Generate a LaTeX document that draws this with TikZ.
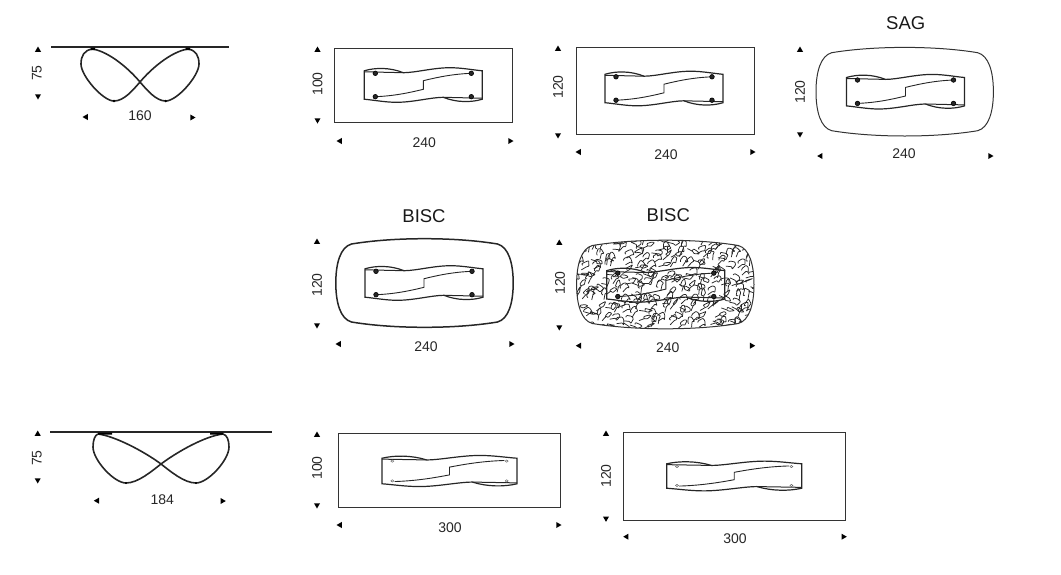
\documentclass[tikz,border=0pt]{standalone}
\usepackage{fontspec}
\setmainfont{Liberation Sans}
\usetikzlibrary{shapes,positioning}
\tikzset{
  tipu/.style={regular polygon, regular polygon sides=3, fill=black, inner sep=0pt, minimum size=7pt},
  tipd/.style={tipu, shape border rotate=180},
  tipl/.style={tipu, shape border rotate=90},
  tipr/.style={tipu, shape border rotate=270},
  dim/.style={font=\fontsize{14}{16}\selectfont, text=black!85, inner sep=0pt},
  dimv/.style={dim, rotate=90},
  title/.style={font=\fontsize{18.5}{20}\selectfont, text=black!90, inner sep=0pt},
  frame/.style={draw=black!80, line width=1pt, inner sep=0pt},
  top/.style={draw=black!85, line width=2.2pt},
  leg/.style={draw=black!85, line width=1.6pt},
  plan/.pic={
    \draw[line width=1.2pt, black!85] (-59,-14.2) .. controls (-48,-17.6) and (-33,-17.6) .. (-20,-12.3) .. controls (-8,-12.3) and (10,-17.3) .. (26.7,-17.3) .. controls (38,-17.3) and (50,-15) .. (59,-14.2) -- (59,14.2) .. controls (48,17.6) and (33,17.6) .. (20,12.3) .. controls (8,12.3) and (-10,17.3) .. (-26.7,17.3) .. controls (-38,17.3) and (-50,15) .. (-59,14.2) -- cycle;
    \draw[line width=1pt, black!85] (-59,-13.2) -- (-20,-12.3) (59,13.2) -- (20,12.3);
    \draw[line width=0.9pt, black!85] (-48,11.7) .. controls (-30,11) and (-15,8) .. (0,4.3) -- (0,-4.3) .. controls (15,-8) and (30,-11) .. (48,-11.7);
  },
  feet/.pic={
    \foreach \fx in {-48,48} \foreach \fy in {-11.7,11.7}
      \draw[black, line width=0.6pt, fill=black!85] (\fx,\fy) circle (2.3pt);
  },
  feetlight/.pic={
    \foreach \fx in {-50,50} \foreach \fy in {-11,11}
      \draw[black!60, line width=0.5pt, fill=white] (\fx,\fy) circle (1.3pt);
  },
  shellpath/.style={insert path={(0,-44.3) .. controls (-30,-44.3) and (-55,-42) .. (-73,-39) .. controls (-84,-36) and (-88.7,-20) .. (-88.7,0) .. controls (-88.7,20) and (-84,36) .. (-73,39) .. controls (-55,42) and (-30,44.3) .. (0,44.3) .. controls (30,44.3) and (55,42) .. (73,39) .. controls (84,36) and (88.7,20) .. (88.7,0) .. controls (88.7,-20) and (84,-36) .. (73,-39) .. controls (55,-42) and (30,-44.3) .. (0,-44.3) -- cycle}},
  marble/.pic={
    \begin{scope}
      \clip[shellpath];
      \pgfmathsetseed{4217}
      \foreach \i in {-9,...,9} \foreach \j in {-5,...,5} {
        \pgfmathsetmacro{\mx}{\i*9.6+rand*4-4}
        \pgfmathsetmacro{\my}{\j*8.4+rand*3}
        \pgfmathsetmacro{\ma}{-30+rand*60}
        \pgfmathsetmacro{\mb}{\ma+50+rand*50}
        \pgfmathsetmacro{\mc}{\ma-40+rand*40}
        \draw[line width=0.75pt, black!85, rounded corners=0.7pt] (\mx,\my) -- ++(\ma:6) -- ++(\mb:2.5) -- ++(\mc:5.5) -- ++(\mb+175:3) -- ++(\ma+185:5) -- ++(\mb+60:2);
      }
    \end{scope}
  },
}
\begin{document}
\begin{tikzpicture}[x=1pt, y=-1pt]
  \useasboundingbox (0,0) rectangle (1061,574);

  \coordinate (topal) at (51,47);
  \coordinate (topar) at (229,47);
  \draw[top] (topal) -- (topar);
  \draw[leg] (92.7,49) .. controls (110,52) and (130,70) .. (140,82) .. controls (147,90) and (156,101) .. (165.7,101) .. controls (177,101) and (199,76) .. (199,64) .. controls (199,56) and (196,50) .. (187.7,49) .. controls (170,52) and (150,70) .. (140,82) .. controls (133,90) and (124,101) .. (114,101) .. controls (103,101) and (81,76) .. (81,64) .. controls (81,56) and (84,50) .. (92.7,49);
  \fill (90.5,47.5) rectangle (95,50) (185.5,47.5) rectangle (190,50);
  \fill (114,101) circle (1.3pt) (165.7,101) circle (1.3pt);
  \node[tipu] (ua) at (38,50) {};
  \node[tipd] (da) at (38,96) {};
  \node[dimv] (ha) at (37,73) {75};
  \node[tipl] (la) at (86,117) {};
  \node[tipr] (ra) at (192,117.5) {};
  \node[dim] (wa) at (140,116) {160};

  \node[frame, minimum width=178pt, minimum height=74pt] (fb) at (423.2,85.4) {};
  \pic at (423.3,85) {plan};
  \pic at (423.3,85) {feet};
  \node[tipu] (ub) at (317.5,50) {};
  \node[tipd] (db) at (317.5,120) {};
  \node[dimv] (hb) at (317.5,84) {100};
  \node[tipl] (lb) at (340,141) {};
  \node[tipr] (rb) at (510,141) {};
  \node[dim] (wb) at (424.3,143) {240};

  \node[frame, minimum width=178pt, minimum height=87pt] (fc) at (665.5,90.5) {};
  \pic at (664,88.5) {plan};
  \pic at (664,88.5) {feet};
  \node[tipu] (uc) at (558,49) {};
  \node[tipd] (dc) at (558,135) {};
  \node[dimv] (hc) at (558,87) {120};
  \node[tipl] (lc) at (579,152) {};
  \node[tipr] (rc) at (752,152) {};
  \node[dim] (wc) at (666,155) {240};

  \pic at (904.7,91.7) {code={\draw[line width=1pt, black!80, shellpath];}};
  \pic at (905.5,91.7) {plan};
  \pic at (905.5,91.7) {feet};
  \node[title] (sag) at (905.7,23) {SAG};
  \node[tipu] (ud) at (800,50) {};
  \node[tipd] (dd) at (800,134) {};
  \node[dimv] (hd) at (800,92) {120};
  \node[tipl] (ld) at (820.7,156) {};
  \node[tipr] (rd) at (990,156) {};
  \node[dim] (wd) at (904,154) {240};

  \pic at (424.5,283) {code={\draw[line width=1.5pt, black!85, shellpath];}};
  \pic at (424,283) {plan};
  \pic at (424,283) {feet};
  \node[title] (bisca) at (424,216) {BISC};
  \node[tipu] (ue) at (317,242) {};
  \node[tipd] (de) at (317,325) {};
  \node[dimv] (he) at (317,285) {120};
  \node[tipl] (le) at (339,344) {};
  \node[tipr] (re) at (511,344) {};
  \node[dim] (we) at (426,347) {240};

  \pic at (665.3,284.5) {marble};
  \pic at (665.3,284.5) {code={\draw[line width=1pt, black!80, shellpath];}};
  \pic at (665.8,284.8) {plan};
  \pic at (665.8,284.8) {feet};
  \node[title] (biscb) at (668.3,215) {BISC};
  \node[tipu] (uf) at (559.3,243) {};
  \node[tipd] (df) at (559.3,327) {};
  \node[dimv] (hf) at (560,283) {120};
  \node[tipl] (lf) at (579.3,345.7) {};
  \node[tipr] (rf) at (751.7,345.7) {};
  \node[dim] (wf) at (667.7,347.5) {240};

  \coordinate (topgl) at (50,432.3);
  \coordinate (topgr) at (271.7,432.3);
  \draw[top] (topgl) -- (topgr);
  \draw[leg] (98,434) .. controls (115,436) and (145,452) .. (161,464) .. controls (170,471) and (184,483) .. (196,483) .. controls (208,483) and (229,460) .. (229,447) .. controls (229,440) and (227,435) .. (223,434) .. controls (205,436) and (177,452) .. (161,464) .. controls (152,471) and (138,483) .. (126,483) .. controls (114,483) and (93,460) .. (93,447) .. controls (93,440) and (95,435) .. (98,434);
  \fill (98,432.5) rectangle (112,434.5) (210,432.5) rectangle (223,434.5);
  \fill (126,483) circle (1.1pt) (196,483) circle (1.1pt);
  \node[tipu] (ug) at (37.7,434) {};
  \node[tipd] (dg) at (37.7,480) {};
  \node[dimv] (hg) at (37,458) {75};
  \node[tipl] (lg) at (97.3,500.7) {};
  \node[tipr] (rg) at (222.3,501) {};
  \node[dim] (wg) at (162.3,500) {184};

  \node[frame, minimum width=222pt, minimum height=74pt] (fh) at (449,470) {};
  \pic[xscale=1.144, yscale=0.9] at (449.5,471) {plan};
  \pic[xscale=1.144, yscale=0.9] at (449.5,471) {feetlight};
  \node[tipu] (uh) at (317,435) {};
  \node[tipd] (dh) at (317,505) {};
  \node[dimv] (hh) at (317,468) {100};
  \node[tipl] (lh) at (340,525) {};
  \node[tipr] (rh) at (558,525) {};
  \node[dim] (wh) at (450,528) {300};

  \node[frame, minimum width=221.7pt, minimum height=88.7pt] (fi) at (734.8,476.6) {};
  \pic[xscale=1.144, yscale=0.86] at (734.2,476) {plan};
  \pic[xscale=1.144, yscale=0.86] at (734.2,476) {feetlight};
  \node[tipu] (ui) at (606,434) {};
  \node[tipd] (di) at (606,518.3) {};
  \node[dimv] (hi) at (606,476) {120};
  \node[tipl] (li) at (626.7,536.7) {};
  \node[tipr] (ri) at (843.3,536.7) {};
  \node[dim] (wi) at (735,538.3) {300};
\end{tikzpicture}
\end{document}
